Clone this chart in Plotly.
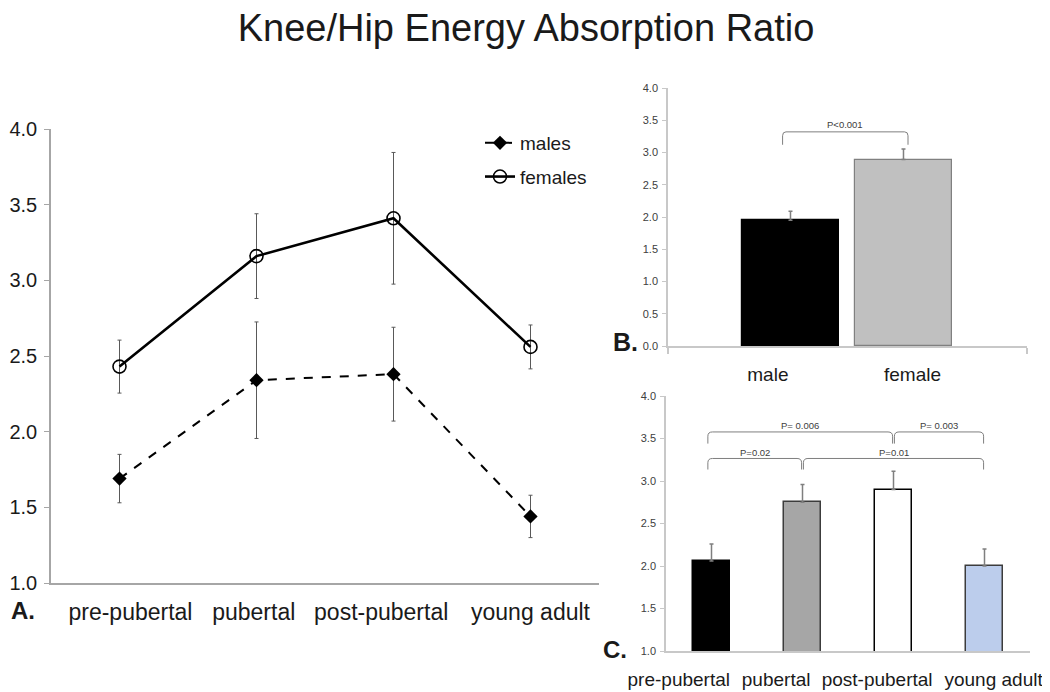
import plotly.graph_objects as go

# ---------------- data ----------------
stages = ["pre-pubertal", "pubertal", "post-pubertal", "young adult"]
females_mean = [2.43, 3.16, 3.41, 2.56]
females_err = [0.175, 0.28, 0.435, 0.145]
males_mean = [1.69, 2.34, 2.38, 1.44]
males_err = [0.16, 0.385, 0.31, 0.14]

sex_labels = ["male", "female"]
sex_mean = [1.95, 2.89]
sex_err = [0.14, 0.165]
sex_p = [(0, 1, "P<0.001")]

stage_mean = [2.06, 2.75, 2.90, 2.00]
stage_err = [0.20, 0.21, 0.215, 0.20]
# (from index, to index, label, level)
stage_p = [(0, 1, "P=0.02", 1), (1, 3, "P=0.01", 1),
           (0, 2, "P= 0.006", 2), (2, 3, "P= 0.003", 2)]

yticks_A = [1.0, 1.5, 2.0, 2.5, 3.0, 3.5, 4.0]
yticks_B = [0.0, 0.5, 1.0, 1.5, 2.0, 2.5, 3.0, 3.5, 4.0]
yticks_C = [1.0, 1.5, 2.0, 2.5, 3.0, 3.5, 4.0]

# ---------------- layout helpers ----------------
W, H = 1050, 692
SHIFT = 8  # page body margin compensation


def px(x):
    return (x - SHIFT) / W


def py(y):
    return 1 - (y - SHIFT) / H


FONT = "Liberation Sans, Arial, Helvetica, sans-serif"
sex_colors = ["#000000", "#c0c0c0"]
sex_lines = ["#000000", "#808080"]
stage_colors = ["#000000", "#a6a6a6", "#ffffff", "#bccdec"]
stage_lines = ["#000000", "#3c3c3c", "#000000", "#3c3c3c"]
ERR = "#7f7f7f"

fig = go.Figure()

# ---- Panel A: line chart ----
xA = list(range(len(stages)))
fig.add_trace(go.Scatter(
    x=xA, y=males_mean, name="males", mode="lines+markers",
    line=dict(color="black", width=2, dash="dash"),
    marker=dict(symbol="diamond", size=11, color="black"),
    error_y=dict(type="data", array=males_err, color="#595959", thickness=1, width=2),
    xaxis="x", yaxis="y", legendgroup="m"))
fig.add_trace(go.Scatter(
    x=xA, y=females_mean, name="females", mode="lines+markers",
    line=dict(color="black", width=2.6),
    marker=dict(symbol="circle-open", size=13, color="black", line=dict(width=1.6)),
    error_y=dict(type="data", array=females_err, color="#595959", thickness=1, width=2),
    xaxis="x", yaxis="y", legendgroup="f"))

# ---- Panel B: sex bars ----
xB = list(range(len(sex_labels)))
fig.add_trace(go.Bar(
    x=xB, y=sex_mean, width=0.86,
    marker=dict(color=sex_colors, line=dict(color=sex_lines, width=1.2)),
    error_y=dict(type="data", symmetric=False, array=sex_err, arrayminus=[0] * len(sex_err),
                 color=ERR, thickness=1.5, width=2),
    xaxis="x2", yaxis="y2", showlegend=False))

# ---- Panel C: stage bars ----
xC = list(range(len(stages)))
fig.add_trace(go.Bar(
    x=xC, y=stage_mean, width=0.4,
    marker=dict(color=stage_colors, line=dict(color=stage_lines, width=1.5)),
    error_y=dict(type="data", symmetric=False, array=stage_err, arrayminus=[0] * len(stage_err),
                 color=ERR, thickness=1.5, width=2),
    xaxis="x3", yaxis="y3", showlegend=False))


def bracket(xr, yr, x0, x1, ytop, ybot, text, ty, rx, ry):
    path = (f"M {x0},{ybot} L {x0},{ytop - ry} Q {x0},{ytop} {x0 + rx},{ytop} "
            f"L {x1 - rx},{ytop} Q {x1},{ytop} {x1},{ytop - ry} L {x1},{ybot}")
    fig.add_shape(type="path", path=path, xref=xr, yref=yr,
                  line=dict(color="#7f7f7f", width=1))
    fig.add_annotation(x=(x0 + x1) / 2, y=ty, xref=xr, yref=yr, text=text,
                       showarrow=False, yanchor="middle",
                       font=dict(family=FONT, size=9.5, color="#404040"))


for i, j, t in sex_p:
    bracket("x2", "y2", i - 0.07, j + 0.04, 3.32, 3.12, t, 3.43, 0.03, 0.06)

levels = {1: (3.265, 3.135, 3.33), 2: (3.577, 3.44, 3.65)}
for i, j, t, lv in stage_p:
    top, bot, ty = levels[lv]
    x0 = i - 0.04 if i == 0 else i + 0.01
    x1 = j - 0.01
    bracket("x3", "y3", x0, x1, top, bot, t, ty, 0.05, 0.05)

# panel letters
for label, lx, ly, size in [("A.", 9, 610, 24), ("B.", 611, 342, 25), ("C.", 601, 649, 24)]:
    fig.add_annotation(x=px(lx), y=py(ly), xref="paper", yref="paper",
                       xanchor="left", yanchor="middle", text=f"<b>{label}</b>",
                       showarrow=False, font=dict(family=FONT, size=size, color="#1a1a1a"))

axis_common = dict(showgrid=False, zeroline=False, showline=True, mirror=False, automargin=False)
tick_font_small = dict(family=FONT, size=11, color="#404040")

A_label_offsets = [0.08, -0.02, -0.09, 0.0]
B_label_offsets = [-0.2, 0.08]
C_label_offsets = [-0.36, -0.29, -0.18, 0.10]

fig.update_layout(
    width=W, height=H,
    margin=dict(l=0, r=0, t=0, b=0, autoexpand=False),
    paper_bgcolor="white", plot_bgcolor="white",
    font=dict(family=FONT, color="#1a1a1a"),
    title=dict(text="Knee/Hip Energy Absorption Ratio", x=px(526), xanchor="center",
               y=py(28), yanchor="middle", automargin=False,
               font=dict(family=FONT, size=38, color="#1a1a1a")),
    showlegend=True,
    legend=dict(x=px(480), y=py(124), xanchor="left", yanchor="top",
                bgcolor="rgba(0,0,0,0)", font=dict(family=FONT, size=19, color="#1a1a1a"),
                traceorder="grouped", tracegroupgap=6, itemwidth=30),
    bargap=0,
    # panel A
    xaxis=dict(**axis_common, domain=[px(51), px(599)], range=[-0.5, 3.5],
               tickvals=[i + o for i, o in zip(xA, A_label_offsets)], ticktext=stages,
               ticks="", linecolor="#a6a6a6", linewidth=1.5,
               tickfont=dict(family=FONT, size=23, color="#1a1a1a"), ticklabelstandoff=8,
               anchor="y"),
    yaxis=dict(**axis_common, domain=[py(583), py(129)], range=[1, 4],
               tickvals=yticks_A, ticktext=[f"{v:.1f}" for v in yticks_A],
               ticks="outside", ticklen=5, tickcolor="#a6a6a6", linecolor="#a6a6a6",
               linewidth=1.5, tickfont=dict(family=FONT, size=20, color="#1a1a1a"),
               ticklabelstandoff=3, anchor="x"),
    # panel B
    xaxis2=dict(**axis_common, domain=[px(668), px(1027)], range=[-1.084, 2.093],
                tickvals=[i + o for i, o in zip(xB, B_label_offsets)], ticktext=sex_labels,
                ticks="", linecolor="#c8c8c8", linewidth=1.5,
                minor=dict(tickvals=[-1.084, 2.093], ticks="outside", ticklen=6,
                           tickcolor="#c8c8c8", tickwidth=1.5),
                tickfont=dict(family=FONT, size=19, color="#1a1a1a"), ticklabelstandoff=10,
                anchor="y2"),
    yaxis2=dict(**axis_common, domain=[py(346), py(88)], range=[0, 4],
                tickvals=yticks_B, ticktext=[f"{v:.1f}" for v in yticks_B],
                ticks="outside", ticklen=4, tickcolor="#c8c8c8", linecolor="#c8c8c8",
                linewidth=1.5, tickfont=tick_font_small, ticklabelstandoff=2, anchor="x2"),
    # panel C
    xaxis3=dict(**axis_common, domain=[px(666), px(1030)], range=[-0.5, 3.5],
                tickvals=[i + o for i, o in zip(xC, C_label_offsets)], ticktext=stages,
                ticks="", linecolor="#c8c8c8", linewidth=1.5,
                tickfont=dict(family=FONT, size=19, color="#1a1a1a"), ticklabelstandoff=10,
                anchor="y3"),
    yaxis3=dict(**axis_common, domain=[py(651), py(396)], range=[1, 4],
                tickvals=yticks_C, ticktext=[f"{v:.1f}" for v in yticks_C],
                ticks="outside", ticklen=4, tickcolor="#c8c8c8", linecolor="#c8c8c8",
                linewidth=1.5, tickfont=tick_font_small, ticklabelstandoff=2, anchor="x3"),
)

fig.write_html("out.html")
